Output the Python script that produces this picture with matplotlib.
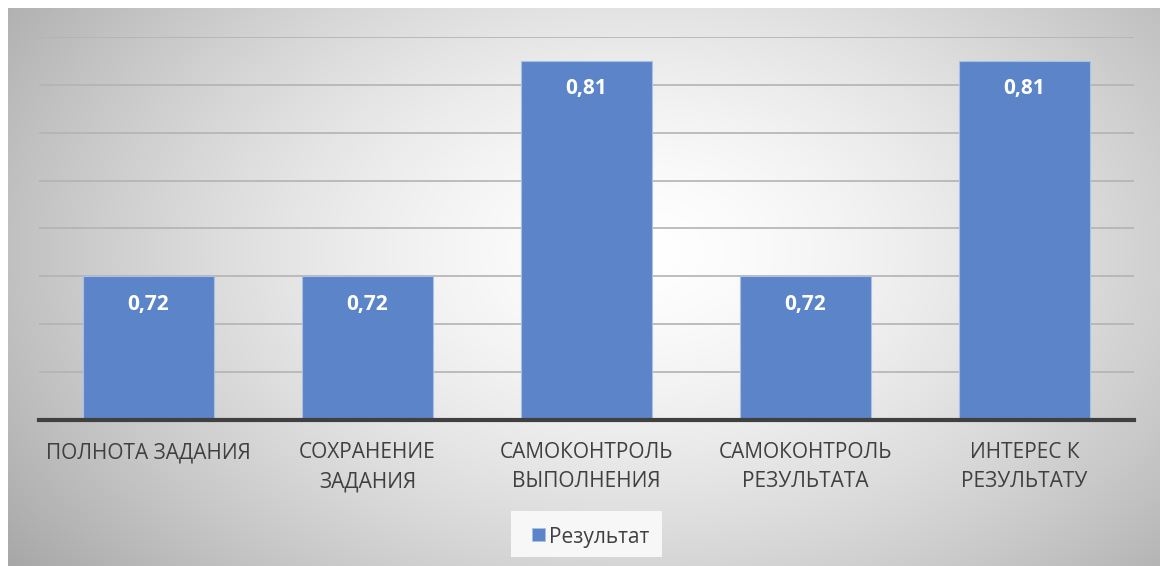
import numpy as np
import matplotlib
matplotlib.use("Agg")
import matplotlib.pyplot as plt
from matplotlib.patches import Rectangle

categories = ["ПОЛНОТА ЗАДАНИЯ", "СОХРАНЕНИЕ\nЗАДАНИЯ", "САМОКОНТРОЛЬ\nВЫПОЛНЕНИЯ",
              "САМОКОНТРОЛЬ\nРЕЗУЛЬТАТА", "ИНТЕРЕС К\nРЕЗУЛЬТАТУ"]
values = [0.72, 0.72, 0.81, 0.72, 0.81]
value_labels = ["0,72", "0,72", "0,81", "0,72", "0,81"]
series_name = "Результат"

W, H = 1168, 566
DPI = 100
plt.rcParams['font.family'] = ['Open Sans', 'DejaVu Sans']

fig = plt.figure(figsize=(W / DPI, H / DPI), dpi=DPI)
fig.patch.set_facecolor("white")

# background gradient of the chart area
bx0, by0, bx1, by1 = 8, 8, 1160, 566
bg = fig.add_axes([bx0 / W, 1 - by1 / H, (bx1 - bx0) / W, (by1 - by0) / H], zorder=-10)
xs = np.arange(bx0, bx1)
ys = np.arange(by0, by1)
X, Y = np.meshgrid(xs, ys)
cx, cy = 640, 250
r = np.sqrt(((X - cx) / 640.0) ** 2 + ((Y - cy) / 420.0) ** 2)
g = 1 - 0.25 * np.clip(r, 0, 1.3) ** 1.5
img = np.dstack([g, g, g])
bg.imshow(img, aspect="auto", interpolation="bilinear")
bg.set_axis_off()

# main axes
left, right = 39, 1134
top, bottom = 37, 420
ax = fig.add_axes([left / W, 1 - bottom / H, (right - left) / W, (bottom - top) / H])
ax.set_facecolor("none")
x = np.arange(len(categories))
bar_color = "#5b84c9"
ax.bar(x, values, width=0.6, color=bar_color, edgecolor="#a9bfe4", linewidth=0.8, zorder=3)
ax.set_xlim(-0.5, len(categories) - 0.5)
ax.set_ylim(0.66, 0.82)
ax.set_yticks(np.arange(0.68, 0.8201, 0.02))
ax.yaxis.grid(True, color="#b3b3b3", linewidth=1.2, zorder=0)
ax.tick_params(axis="y", length=0, labelleft=False)
ax.set_xticks(x)
ax.set_xticklabels(categories, fontsize=15, color="#404040", linespacing=1.5)
ax.tick_params(axis="x", length=0, pad=16)
for s in ["top", "right", "left"]:
    ax.spines[s].set_visible(False)
ax.spines["bottom"].set_color("#404040")
ax.spines["bottom"].set_linewidth(3)
ax.spines["bottom"].set_zorder(5)

for xi, v, lab in zip(x, values, value_labels):
    ax.annotate(lab, (xi, v), xytext=(0, -28), textcoords="offset pixels",
                ha="center", va="center", color="white", fontsize=15, fontweight="bold", zorder=6)

# legend
leg = fig.add_axes([511 / W, 1 - 557 / H, 151 / W, 46 / H])
leg.set_xlim(511, 662)
leg.set_ylim(557, 511)
leg.set_axis_off()
leg.add_patch(Rectangle((511, 511), 151, 46, facecolor="#f7f7f7", edgecolor="none"))
leg.add_patch(Rectangle((532, 528), 13, 13, facecolor=bar_color, edgecolor="#a9bfe4", linewidth=0.6))
leg.text(549, 535, series_name, ha="left", va="center_baseline", fontsize=15, color="#404040")

fig.savefig("out.png", dpi=DPI)
